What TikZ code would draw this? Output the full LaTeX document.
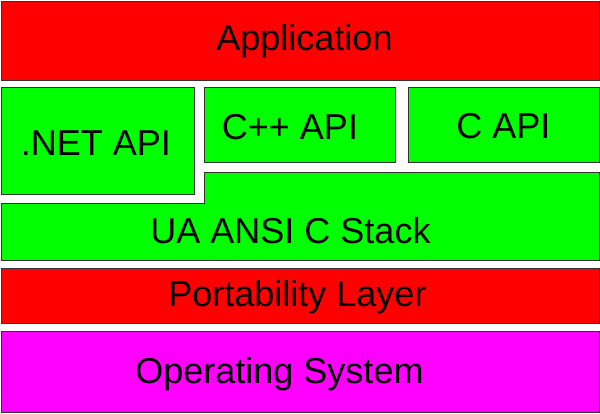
\documentclass[tikz,border=0pt]{standalone}
\usepackage{fontspec}
\setmainfont{Liberation Sans}
\usepackage{tikz}
\definecolor{layerred}{RGB}{255,0,0}
\definecolor{layergreen}{RGB}{0,255,0}
\definecolor{layermagenta}{RGB}{255,0,255}
\tikzstyle{layer} = [draw=black!80, line width=1pt]
\tikzstyle{caption} = [anchor=base, inner sep=0pt, font=\fontsize{36}{40}\selectfont]

\begin{document}
\begin{tikzpicture}[x=1pt, y=-1pt]
    \useasboundingbox (0,0) rectangle (600,413);
    % layers
    \filldraw [layer, fill=layerred] (1,1) rectangle (599,80);
    \filldraw [layer, fill=layergreen] (1,87) rectangle (194,194);
    \filldraw [layer, fill=layergreen] (204,87) rectangle (395,162);
    \filldraw [layer, fill=layergreen] (408,87) rectangle (599,162);
    \filldraw [layer, fill=layergreen] (1,203) -- (204,203) -- (204,172) -- (599,172)
        -- (599,260) -- (1,260) -- cycle;
    \filldraw [layer, fill=layerred] (1,268) rectangle (599,323);
    \filldraw [layer, fill=layermagenta] (1,331) rectangle (599,412);
    % texts
    \node [caption] (app) at (304.5,50) {Application};
    \node [caption] (net) at (96,155) {.NET API};
    \node [caption] (cpp) at (290,139.3) {C++ API};
    \node [caption] (capi) at (503.5,138.3) {C API};
    \node [caption] (stack) at (290.5,243.3) {UA ANSI C Stack};
    \node [caption] (port) at (297.5,306.7) {Portability Layer};
    \node [caption] (os) at (279.5,383) {Operating System};
\end{tikzpicture}
\end{document}
